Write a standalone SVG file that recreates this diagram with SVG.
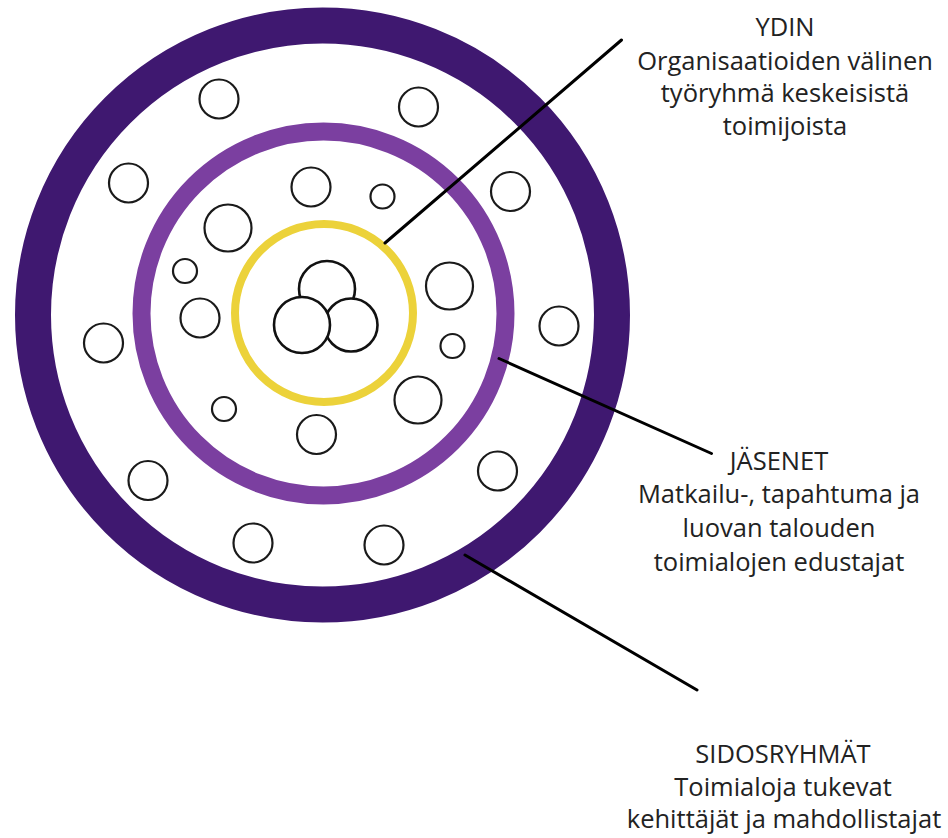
<svg xmlns="http://www.w3.org/2000/svg" width="948" height="838" viewBox="0 0 948 838">
<style>
.ring{fill:none}
.c{fill:#fff;stroke:#1a1a1a;stroke-width:2.2}
.core{fill:#fff;stroke:#111;stroke-width:2.6}
.ln{stroke:#000;stroke-width:3;fill:none;stroke-linecap:round}
.t{font-family:"Open Sans","Noto Sans",sans-serif;font-size:25.5px;fill:#222;text-anchor:middle}
</style>
<rect width="948" height="838" fill="#fff"/>
<g id="sidosryhmat-ring"><circle class="ring" cx="322.5" cy="315" r="289.5" stroke="#3f1870" stroke-width="36"/></g>
<g id="jasenet-ring"><circle class="ring" cx="323.5" cy="313.5" r="182" stroke="#7b3fa0" stroke-width="18"/></g>
<g id="ydin-ring"><circle class="ring" cx="324" cy="313" r="89" stroke="#ecd23a" stroke-width="8"/></g>
<g id="core">
<circle class="core" cx="327" cy="289" r="28"/>
<circle class="core" cx="351" cy="325" r="26.5"/>
<circle class="core" cx="302" cy="325" r="28"/>
</g>
<g id="actors">
<circle class="c" cx="219" cy="99" r="19.5"/>
<circle class="c" cx="418.5" cy="107" r="19.5"/>
<circle class="c" cx="128.5" cy="183" r="19.5"/>
<circle class="c" cx="311" cy="187" r="19.5"/>
<circle class="c" cx="382.5" cy="196.5" r="12"/>
<circle class="c" cx="510.5" cy="191.5" r="19.5"/>
<circle class="c" cx="228" cy="228" r="23.5"/>
<circle class="c" cx="185" cy="271" r="12"/>
<circle class="c" cx="449.5" cy="286" r="23.5"/>
<circle class="c" cx="200" cy="318" r="19.5"/>
<circle class="c" cx="559" cy="326" r="19.5"/>
<circle class="c" cx="103.5" cy="343" r="19.5"/>
<circle class="c" cx="452.5" cy="346" r="12"/>
<circle class="c" cx="418" cy="400" r="23.5"/>
<circle class="c" cx="224" cy="409" r="12"/>
<circle class="c" cx="316.5" cy="434.5" r="19.5"/>
<circle class="c" cx="497.5" cy="471" r="19.5"/>
<circle class="c" cx="148" cy="480.5" r="19.5"/>
<circle class="c" cx="253" cy="543" r="19.5"/>
<circle class="c" cx="384" cy="545" r="19.5"/>
</g>
<g id="connectors">
<line class="ln" x1="385" y1="243" x2="621.5" y2="40"/>
<line class="ln" x1="499" y1="358.5" x2="711.5" y2="453.5"/>
<line class="ln" x1="465" y1="555" x2="697" y2="690"/>
</g>
<g id="label-ydin">
<text class="t" x="785" y="36">YDIN</text>
<text class="t" x="785" y="70">Organisaatioiden välinen</text>
<text class="t" x="785" y="102">työryhmä keskeisistä</text>
<text class="t" x="785" y="135">toimijoista</text>
</g>
<g id="label-jasenet">
<text class="t" x="779" y="470">JÄSENET</text>
<text class="t" x="779" y="503">Matkailu-, tapahtuma ja</text>
<text class="t" x="779" y="537">luovan talouden</text>
<text class="t" x="779" y="571">toimialojen edustajat</text>
</g>
<g id="label-sidosryhmat">
<text class="t" x="783" y="763">SIDOSRYHMÄT</text>
<text class="t" x="783" y="796">Toimialoja tukevat</text>
<text class="t" x="784" y="828">kehittäjät ja mahdollistajat</text>
</g>
</svg>
